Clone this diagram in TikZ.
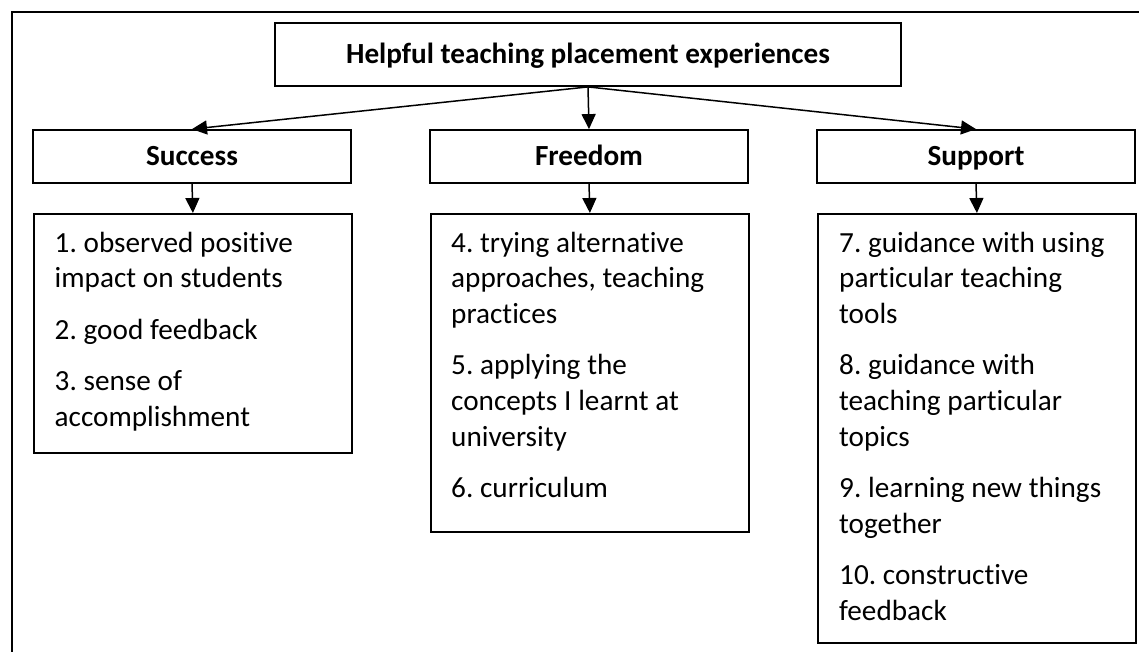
\documentclass[tikz,border=0pt]{standalone}
\usepackage{fontspec}
\setmainfont{Carlito}[Ligatures=NoCommon]
\usetikzlibrary{arrows.meta}
\frenchspacing

\begin{document}
\begin{tikzpicture}[
  box/.style={draw,line width=1.8pt,inner sep=0pt},
  arr/.style={-{Triangle[length=15pt,width=14pt]},line width=1.5pt},
  head/.style={box,text height=18.6pt,text depth=0pt,font=\fontsize{29.2}{35}\selectfont\bfseries},
  item/.style={anchor=base west,text width=290pt,align=left,inner sep=0pt,font=\fontsize{29.2}{35.6}\selectfont,
    execute at begin node={\spaceskip=6.8pt\relax}}]
\pgfsetxvec{\pgfpoint{1pt}{0}}
\pgfsetyvec{\pgfpoint{0}{-1pt}}
  \useasboundingbox (0,0) rectangle (1139,652);
  \draw[line width=1.8pt] (12,652)--(12,12)--(1139,12);
  % headings
  \node[head,minimum width=626pt,minimum height=63pt] (top) at (588,54.5) {Helpful teaching placement experiences};
  \node[head,minimum width=318pt,minimum height=53pt] (success) at (192,156.5) {Success};
  \node[head,minimum width=318pt,minimum height=53pt] (freedom) at (589,156.5) {Freedom};
  \node[head,minimum width=318pt,minimum height=53pt] (support) at (976,156.5) {Support};
  % lists
  \node[box,anchor=north west,minimum width=318pt,minimum height=239pt] (successlist) at (33,213) {};
  \node[box,anchor=north west,minimum width=318pt,minimum height=318pt] (freedomlist) at (430,213) {};
  \node[box,anchor=north west,minimum width=318pt,minimum height=429pt] (supportlist) at (817,213) {};
  \node[item] (successtext) at (54.5,252) {1. observed positive\\ impact on students\\[16pt] 2. good feedback\\[16pt] 3. sense of\\ accomplishment};
  \node[item] (freedomtext) at (451,252) {4. trying alternative\\ approaches, teaching\\ practices\\[16pt] 5. applying the\\ concepts I learnt at\\ university\\[16pt] 6. curriculum};
  \node[item] (supporttext) at (839,252) {7. guidance with using\\ particular teaching\\ tools\\[16pt] 8. guidance with\\ teaching particular\\ topics\\[16pt] 9. learning new things\\ together\\[16pt] 10. constructive\\ feedback};
  % arrows
  \draw[arr] (top.south)--(success.north);
  \draw[arr] (top.south)--(freedom.north);
  \draw[arr] (top.south)--(support.north);
  \draw[arr] (success.south)--(successlist.north);
  \draw[arr] (freedom.south)--(freedomlist.north);
  \draw[arr] (support.south)--(supportlist.north);
 \end{tikzpicture}
\end{document}
